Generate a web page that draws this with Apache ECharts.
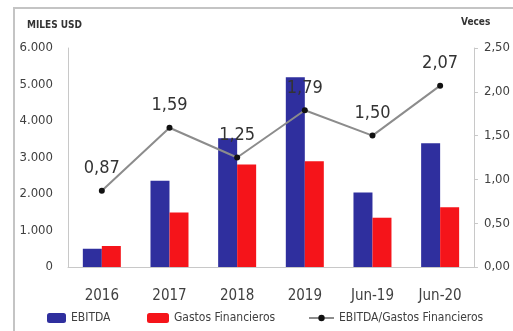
<!DOCTYPE html>
<html>
<head>
<meta charset="utf-8">
<script src="https://cdn.jsdelivr.net/npm/echarts@6/dist/echarts.min.js"></script>
<style>
html,body{margin:0;padding:0;background:#fff;}
#chart{width:513px;height:331px;}
</style>
</head>
<body>
<div id="chart"></div>
<script>
// Periods on the category axis
const categories = ['2016', '2017', '2018', '2019', 'Jun-19', 'Jun-20'];
// EBITDA, thousands of USD
const ebitda = [500, 2360, 3530, 5200, 2040, 3390];
// Financial expenses, thousands of USD
const gastosFinancieros = [575, 1490, 2810, 2900, 1350, 1640];
// Coverage ratio EBITDA / financial expenses (times)
const cobertura = [0.87, 1.59, 1.25, 1.79, 1.50, 2.07];
// Axis tick settings
const leftTicks = { min: 0, max: 6000, interval: 1000 };
const rightTicks = { min: 0, max: 2.5, interval: 0.5 };

const FONT = "'DejaVu Sans Condensed', 'Liberation Sans Narrow', 'Liberation Sans', sans-serif";
const TXT = '#404040';

const chart = echarts.init(document.getElementById('chart'), null, { renderer: 'canvas' });

const fmtMiles = v => String(v).replace(/\B(?=(\d{3})+(?!\d))/g, '.');
const fmtComma = v => v.toFixed(2).replace('.', ',');

chart.setOption({
  backgroundColor: '#fff',
  animation: false,
  textStyle: { fontFamily: FONT },
  graphic: [
    { type: 'rect', shape: { x: 14, y: 8, width: 520, height: 340 },
      style: { fill: 'none', stroke: '#c4c4c4', lineWidth: 2 }, z: -1 },
    { type: 'text', left: 27, top: 20,
      style: { text: 'MILES USD', fontFamily: FONT, fontWeight: 'bold', fontSize: 10, fill: '#333' } },
    { type: 'text', left: 461, top: 17,
      style: { text: 'Veces', fontFamily: FONT, fontWeight: 'bold', fontSize: 10, fill: '#333' } }
  ],
  grid: { left: 68, right: 35, top: 48, bottom: 64, containLabel: false },
  legend: [
    { data: ['EBITDA'], left: 47, top: 312, itemWidth: 19, itemHeight: 10, padding: 0,
      textStyle: { fontFamily: FONT, fontSize: 12, color: TXT } },
    { data: ['Gastos Financieros'], left: 147, top: 312, itemWidth: 22, itemHeight: 10, padding: 0,
      textStyle: { fontFamily: FONT, fontSize: 12, color: TXT } },
    { data: ['EBITDA/Gastos Financieros'], left: 308, top: 312, itemWidth: 25, itemHeight: 8, padding: 0,
      textStyle: { fontFamily: FONT, fontSize: 12, color: TXT } }
  ],
  xAxis: {
    type: 'category',
    data: categories,
    axisLine: { lineStyle: { color: '#c8c8c8' } },
    axisTick: { show: false },
    axisLabel: { fontFamily: FONT, fontSize: 15, color: TXT, margin: 22 }
  },
  yAxis: [
    {
      type: 'value', min: leftTicks.min, max: leftTicks.max, interval: leftTicks.interval,
      position: 'left',
      axisLine: { show: true, lineStyle: { color: '#c8c8c8' } },
      axisTick: { show: false },
      splitLine: { show: false },
      axisLabel: { fontFamily: FONT, fontSize: 13, color: TXT, margin: 15, formatter: fmtMiles }
    },
    {
      type: 'value', min: rightTicks.min, max: rightTicks.max, interval: rightTicks.interval,
      position: 'right',
      axisLine: { show: true, lineStyle: { color: '#c8c8c8' } },
      axisTick: { show: true, length: 4, inside: false, lineStyle: { color: '#c8c8c8' } },
      splitLine: { show: false },
      axisLabel: { fontFamily: FONT, fontSize: 13, color: TXT, margin: 10, formatter: fmtComma }
    }
  ],
  series: [
    {
      name: 'EBITDA', type: 'bar', data: ebitda, yAxisIndex: 0,
      barWidth: 19, barGap: '0%',
      itemStyle: { color: '#2f2f9e' }
    },
    {
      name: 'Gastos Financieros', type: 'bar', data: gastosFinancieros, yAxisIndex: 0,
      barWidth: 19, barGap: '0%',
      itemStyle: { color: '#f5141a' }
    },
    {
      name: 'EBITDA/Gastos Financieros', type: 'line', data: cobertura, yAxisIndex: 1,
      symbol: 'circle', symbolSize: 6,
      itemStyle: { color: '#111' },
      lineStyle: { color: '#8c8c8c', width: 2 },
      z: 5,
      label: {
        show: true, position: 'top', distance: 10,
        fontFamily: FONT, fontSize: 18, color: '#333',
        formatter: p => fmtComma(p.value)
      }
    }
  ]
});
</script>
</body>
</html>
